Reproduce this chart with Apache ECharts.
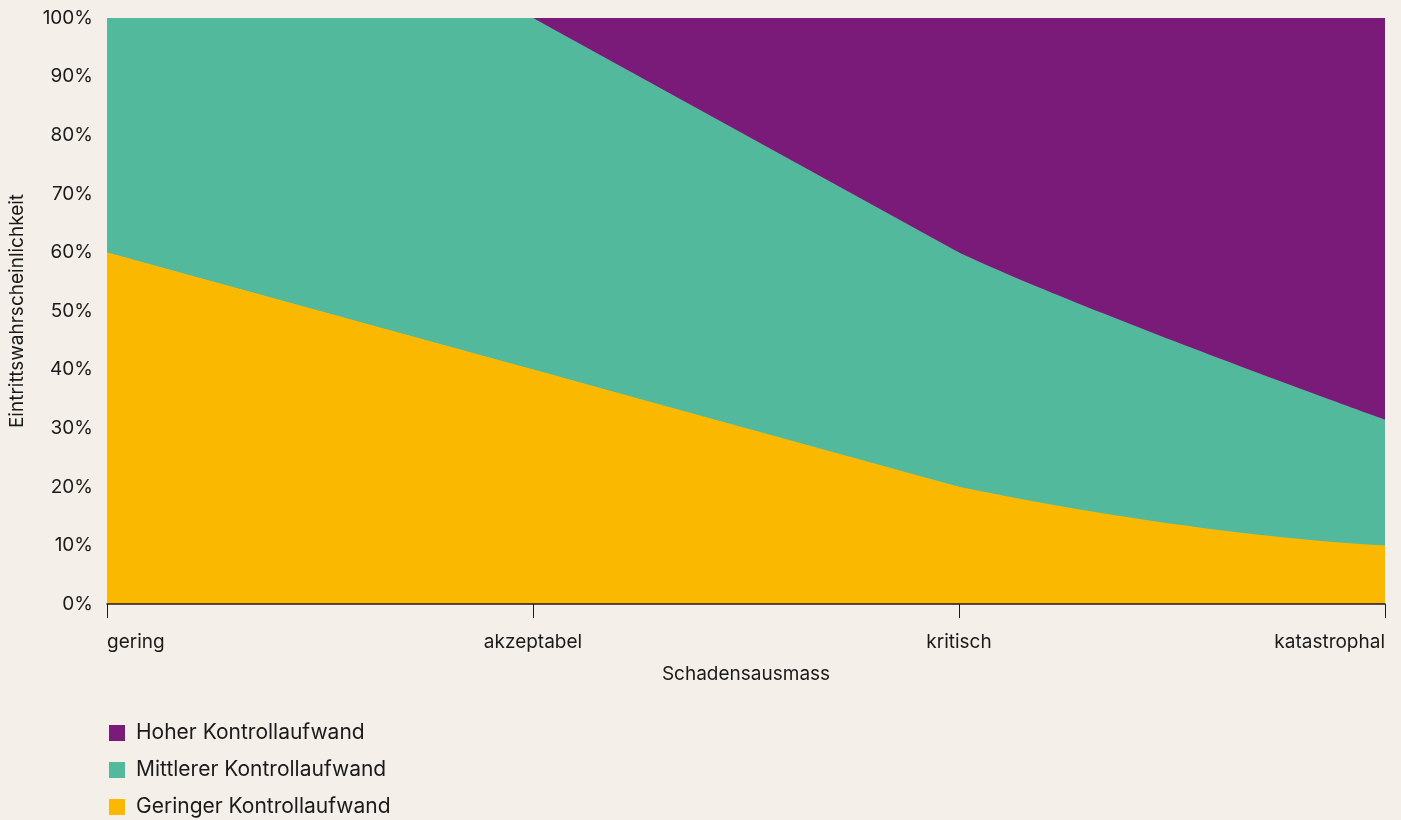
<!DOCTYPE html>
<html>
<head>
<meta charset="utf-8">
<script src="https://cdn.jsdelivr.net/npm/echarts@6/dist/echarts.min.js"></script>
<style>
html,body{margin:0;padding:0;background:#f4f0e9;}
#c{width:1401px;height:820px;}
</style>
</head>
<body>
<div id="c"></div>
<script>
const categories = ['gering', 'akzeptabel', 'kritisch', 'katastrophal'];
const seriesNames = ['Geringer Kontrollaufwand', 'Mittlerer Kontrollaufwand', 'Hoher Kontrollaufwand'];
const geringer = [60, 40, 20, 10];
const mittlerer = [40, 60, 40, 21.5];
const hoher = [0, 0, 40, 68.5];
const yTicks = [0, 10, 20, 30, 40, 50, 60, 70, 80, 90, 100];
const colors = ['#fab900', '#52b99c', '#7a1a79'];

// cumulative tops (areas drawn back-to-front, each filled from 0)
const topGeringer = geringer.slice();
const topMittlerer = geringer.map((v, i) => v + mittlerer[i]);
const topHoher = geringer.map((v, i) => v + mittlerer[i] + hoher[i]);
const last = categories.length - 1;
// straight part of each band (all but the last category), curved tail drawn separately
const straightPart = arr => arr.map((v, i) => i < last ? v : '-');
const tailPart = arr => arr.map((v, i) => i >= 1 ? v : '-');

const font = 'Inter, "Liberation Sans", Arial, sans-serif';
const txt = '#1a1a1a';
const chart = echarts.init(document.getElementById('c'));
const mk = (name, data, color, smooth) => ({
  name, type: 'line', data, smooth,
  showSymbol: false, symbol: 'none',
  lineStyle: { width: 0 },
  areaStyle: { color, opacity: 1, origin: 'start' },
  itemStyle: { color },
  emphasis: { disabled: true }
});
chart.setOption({
  backgroundColor: '#f4f0e9',
  animation: false,
  textStyle: { fontFamily: font },
  grid: { left: 107, right: 16, top: 18, bottom: 216, containLabel: false },
  legend: {
    orient: 'vertical', left: 109, top: 722.5, padding: 0,
    data: [seriesNames[2], seriesNames[1], seriesNames[0]],
    icon: 'rect', itemWidth: 16, itemHeight: 16, itemGap: 16,
    textStyle: { fontSize: 21, color: txt, fontFamily: font, lineHeight: 21, padding: [0, 0, 0, 6] },
    selectedMode: false
  },
  xAxis: {
    type: 'category', data: categories, boundaryGap: false,
    name: 'Schadensausmass', nameLocation: 'middle', nameGap: 61,
    nameTextStyle: { fontSize: 19, color: txt, fontFamily: font },
    axisLine: { show: true, lineStyle: { color: txt, width: 1.5 } },
    axisTick: { show: true, length: 14, lineStyle: { color: txt, width: 1 } },
    axisLabel: { fontSize: 19, color: txt, margin: 29, fontFamily: font, alignMinLabel: 'left', alignMaxLabel: 'right' },
    splitLine: { show: false },
    z: 10
  },
  yAxis: {
    type: 'value', min: yTicks[0], max: yTicks[yTicks.length - 1], interval: 10,
    name: 'Eintrittswahrscheinlichkeit', nameLocation: 'middle', nameGap: 80,
    nameTextStyle: { fontSize: 19, color: txt, fontFamily: font },
    axisLine: { show: false }, axisTick: { show: false }, splitLine: { show: false },
    axisLabel: { fontSize: 19, color: txt, margin: 14, fontFamily: font, formatter: v => v + '%' }
  },
  series: [
    mk(seriesNames[2], topHoher, colors[2], false),
    mk(seriesNames[1], tailPart(topMittlerer), colors[1], 0.3),
    mk(seriesNames[1], straightPart(topMittlerer), colors[1], false),
    mk(seriesNames[0], topGeringer, colors[0], 0.6),
    mk(seriesNames[0], straightPart(topGeringer), colors[0], false)
  ]
});
</script>
</body>
</html>
